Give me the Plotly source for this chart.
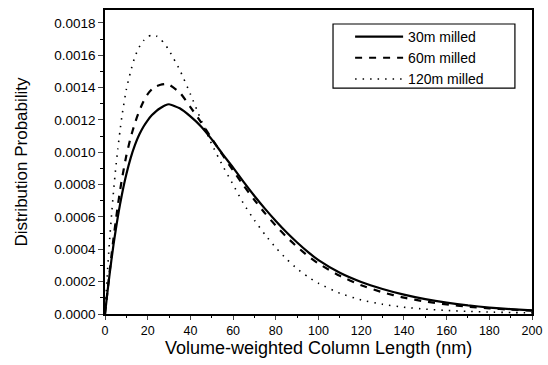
import plotly.graph_objects as go

# Data (x in nm, y = distribution probability)
x_vals = [0, 1, 2, 3, 4, 5, 6, 7, 8, 10, 12, 14, 16, 18, 20, 22, 24, 26, 28, 30,
          35, 40, 45, 50, 55, 60, 65, 70, 75, 80, 85, 90, 95, 100,
          110, 120, 130, 140, 150, 160, 170, 180, 190, 200]

milled_30 = [0, 0.000118, 0.000230, 0.000333, 0.000430, 0.000518, 0.000600, 0.000675, 0.000744,
             0.000864, 0.000964, 0.001044, 0.001108, 0.001158, 0.001198, 0.001230, 0.001255,
             0.001274, 0.001289, 0.001297,
             0.001272, 0.001222, 0.001160, 0.001080, 0.000990, 0.000905, 0.000815, 0.000730,
             0.000650, 0.000575, 0.000505, 0.000442, 0.000384, 0.000333,
             0.000255, 0.000198, 0.000155, 0.000120, 0.000092, 0.000070, 0.000053, 0.000040,
             0.000030, 0.000023]

milled_60 = [0, 0.000121, 0.000240, 0.000357, 0.000470, 0.000572, 0.000670, 0.000758, 0.000840,
             0.000980, 0.001090, 0.001180, 0.001254, 0.001314, 0.001360, 0.001390, 0.001408,
             0.001418, 0.001422, 0.001418,
             0.001370, 0.001280, 0.001185, 0.001085, 0.000985, 0.000887, 0.000793, 0.000705,
             0.000622, 0.000546, 0.000477, 0.000415, 0.000360, 0.000312,
             0.000236, 0.000178, 0.000134, 0.000101, 0.000077, 0.000059, 0.000045, 0.000035,
             0.000027, 0.000021]

milled_120 = [0, 0.000230, 0.000430, 0.000600, 0.000760, 0.000900, 0.001020, 0.001130, 0.001230,
              0.001390, 0.001500, 0.001590, 0.001650, 0.001690, 0.001715, 0.001725, 0.001720,
              0.001700, 0.001670, 0.001630,
              0.001510, 0.001360, 0.001200, 0.001050, 0.000920, 0.000800, 0.000680, 0.000580,
              0.000490, 0.000410, 0.000340, 0.000280, 0.000230, 0.000190,
              0.000128, 0.000087, 0.000060, 0.000042, 0.000030, 0.000022, 0.000016, 0.000012,
              0.000009, 0.000007]

series_names = ["30m milled", "60m milled", "120m milled"]
x_title = "Volume-weighted Column Length (nm)"
y_title = "Distribution Probability"
x_ticks = list(range(0, 201, 20))
y_ticks = [i * 0.0002 for i in range(10)]
y_tick_labels = ["0.0000", "0.0002", "0.0004", "0.0006", "0.0008", "0.0010",
                 "0.0012", "0.0014", "0.0016", "0.0018"]

fig = go.Figure()
fig.add_trace(go.Scatter(x=x_vals, y=milled_30, name=series_names[0], mode="lines",
                         line=dict(color="black", width=2.2, shape="spline", smoothing=0.5)))
fig.add_trace(go.Scatter(x=x_vals, y=milled_60, name=series_names[1], mode="lines",
                         line=dict(color="black", width=2.2, dash="7px,7px", shape="spline", smoothing=0.5)))
fig.add_trace(go.Scatter(x=x_vals, y=milled_120, name=series_names[2], mode="lines",
                         line=dict(color="black", width=1.6, dash="1.5px,6px", shape="spline", smoothing=0.5)))

font_family = "Liberation Sans, Arial, sans-serif"

fig.update_layout(
    width=548, height=365,
    margin=dict(l=105, r=16, t=10, b=51),
    paper_bgcolor="white", plot_bgcolor="white",
    font=dict(family=font_family, color="black", size=13),
    showlegend=True,
    legend=dict(x=0.574, y=0.964, xanchor="left", yanchor="top",
                borderwidth=0, bgcolor="rgba(0,0,0,0)",
                font=dict(size=14, family=font_family), tracegroupgap=0,
                itemwidth=48),
    shapes=[dict(type="rect", xref="paper", yref="paper",
                 x0=0.534, x1=0.960, y0=0.743, y1=0.954,
                 line=dict(color="black", width=1.2), fillcolor="rgba(0,0,0,0)", layer="above")],
    annotations=[dict(text=x_title, xref="paper", yref="paper", x=0.5, y=-0.112,
                      xanchor="center", yanchor="middle", showarrow=False,
                      font=dict(size=18, family=font_family, color="black"))],
    xaxis=dict(
        range=[0, 200], tickvals=x_ticks, ticks="outside", ticklen=4, tickwidth=1.2,
        showline=True, linecolor="black", linewidth=1.5, mirror=True,
        showgrid=False, zeroline=False, automargin=False,
        tickfont=dict(size=12.5),
        minor=dict(dtick=10, ticks="outside", ticklen=2.5, tickwidth=1, tickcolor="black", showgrid=False),
    ),
    yaxis=dict(
        range=[0, 0.00188], tickvals=y_ticks, ticktext=y_tick_labels,
        ticks="outside", ticklen=5, tickwidth=1.2,
        showline=True, linecolor="black", linewidth=1.5, mirror=True,
        showgrid=False, zeroline=False, automargin=False,
        tickfont=dict(size=13.5),
        minor=dict(dtick=0.0001, ticks="outside", ticklen=3, tickwidth=1, tickcolor="black", showgrid=False),
        title=dict(text=y_title, font=dict(size=17), standoff=22),
    ),
)

fig.write_html("out.html")
